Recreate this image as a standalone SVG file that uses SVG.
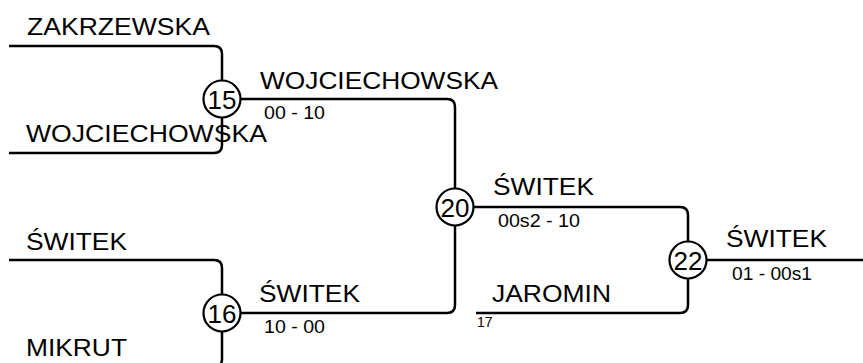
<svg xmlns="http://www.w3.org/2000/svg" width="863" height="363" viewBox="0 0 863 363">
<style>
.c{fill:none;stroke:#000;stroke-width:2.5}
.n{fill:#fff;stroke:#000;stroke-width:2.2}
.t{font-family:"Liberation Sans",Arial,sans-serif;font-size:24px;fill:#000}
.s{font-family:"Liberation Sans",Arial,sans-serif;font-size:18px;fill:#000}
.x{font-family:"Liberation Sans",Arial,sans-serif;font-size:14px;fill:#000}
.nt{font-family:"Liberation Sans",Arial,sans-serif;font-size:26px;fill:#000;text-anchor:middle}
</style>
<rect width="863" height="363" fill="#fff"/>
<g id="connectors">
<path class="c" d="M9,46 H214 Q222,46 222,54 V81"/>
<path class="c" d="M9,153 H214 Q222,153 222,145 V118"/>
<path class="c" d="M9,260 H214 Q222,260 222,268 V295"/>
<path class="c" d="M9,367 H214 Q222,367 222,359 V331"/>
<path class="c" d="M240,99 H447 Q455,99 455,107 V189"/>
<path class="c" d="M240,313 H447 Q455,313 455,305 V225"/>
<path class="c" d="M473,207 H680 Q688,207 688,215 V242"/>
<path class="c" d="M476,313 H680 Q688,313 688,305 V278"/>
<path class="c" d="M706,260 H863"/>
</g>
<g id="labels">
<text class="t" x="27" y="35" textLength="183" lengthAdjust="spacingAndGlyphs">ZAKRZEWSKA</text>
<text class="t" x="26" y="142" textLength="241" lengthAdjust="spacingAndGlyphs">WOJCIECHOWSKA</text>
<text class="t" x="26" y="250" textLength="101" lengthAdjust="spacingAndGlyphs">ŚWITEK</text>
<text class="t" x="26" y="356" textLength="101" lengthAdjust="spacingAndGlyphs">MIKRUT</text>
<text class="t" x="260" y="89" textLength="238" lengthAdjust="spacingAndGlyphs">WOJCIECHOWSKA</text>
<text class="s" x="264" y="119" textLength="61" lengthAdjust="spacingAndGlyphs">00 - 10</text>
<text class="t" x="259" y="302" textLength="101" lengthAdjust="spacingAndGlyphs">ŚWITEK</text>
<text class="s" x="264" y="333" textLength="61" lengthAdjust="spacingAndGlyphs">10 - 00</text>
<text class="t" x="493" y="195" textLength="101" lengthAdjust="spacingAndGlyphs">ŚWITEK</text>
<text class="s" x="498" y="227" textLength="82" lengthAdjust="spacingAndGlyphs">00s2 - 10</text>
<text class="t" x="492" y="302" textLength="119" lengthAdjust="spacingAndGlyphs">JAROMIN</text>
<text class="x" x="477" y="327">17</text>
<text class="t" x="726" y="247" textLength="101" lengthAdjust="spacingAndGlyphs">ŚWITEK</text>
<text class="s" x="732" y="280" textLength="80" lengthAdjust="spacingAndGlyphs">01 - 00s1</text>
</g>
<g id="node15"><circle class="n" cx="222" cy="99" r="18.5"/><text class="nt" x="222" y="108.5">15</text></g>
<g id="node16"><circle class="n" cx="222" cy="313" r="18.5"/><text class="nt" x="222" y="322.5">16</text></g>
<g id="node20"><circle class="n" cx="455" cy="207" r="18.5"/><text class="nt" x="455" y="216.5">20</text></g>
<g id="node22"><circle class="n" cx="688" cy="260" r="18.5"/><text class="nt" x="688" y="269.5">22</text></g>
</svg>
